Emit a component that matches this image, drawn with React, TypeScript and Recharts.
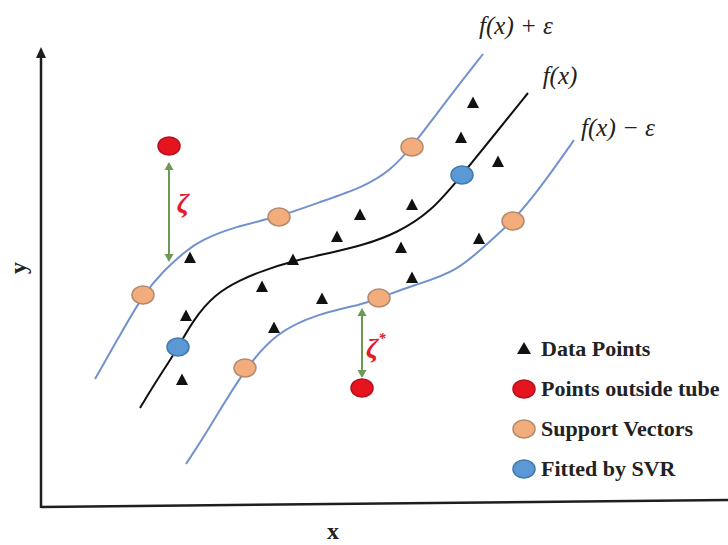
import React from "react";
import {
  ComposedChart,
  Line,
  Scatter,
  XAxis,
  YAxis,
  ReferenceLine,
  ReferenceDot,
  Legend,
} from "recharts";

// tube edges and the fitted function
const upperTube = [
  { x: 54, y: 126 }, { x: 79, y: 170 }, { x: 102, y: 210 }, { x: 122, y: 234 },
  { x: 146, y: 255 }, { x: 159, y: 264 }, { x: 192, y: 278 }, { x: 238, y: 288 },
  { x: 276, y: 302 }, { x: 323, y: 318 }, { x: 350, y: 335 }, { x: 371, y: 358 },
  { x: 406, y: 405 }, { x: 442, y: 451 },
];
const fitted = [
  { x: 99, y: 97 }, { x: 116, y: 125 }, { x: 137, y: 157 }, { x: 152, y: 185 },
  { x: 174, y: 211 }, { x: 199, y: 225 }, { x: 221, y: 234 }, { x: 252, y: 244 },
  { x: 289, y: 252 }, { x: 323, y: 260 }, { x: 356, y: 272 }, { x: 390, y: 293 },
  { x: 421, y: 330 }, { x: 454, y: 371 }, { x: 487, y: 412 },
];
const lowerTube = [
  { x: 145, y: 41 }, { x: 166, y: 73 }, { x: 204, y: 137 }, { x: 236, y: 173 },
  { x: 276, y: 191 }, { x: 323, y: 201 }, { x: 338, y: 207 }, { x: 373, y: 220 },
  { x: 416, y: 233 }, { x: 450, y: 265 }, { x: 472, y: 284 }, { x: 500, y: 318 },
  { x: 533, y: 365 },
];

const dataPoints = [
  { x: 149, y: 247 }, { x: 145, y: 189 }, { x: 141, y: 125 }, { x: 221, y: 218 },
  { x: 233, y: 177 }, { x: 252, y: 245 }, { x: 281, y: 206 }, { x: 296, y: 268 },
  { x: 319, y: 290 }, { x: 360, y: 257 }, { x: 371, y: 227 }, { x: 371, y: 300 },
  { x: 420, y: 367 }, { x: 432, y: 402 }, { x: 438, y: 266 }, { x: 457, y: 343 },
];
const supportVectors = [
  { x: 102, y: 210 }, { x: 238, y: 288 }, { x: 371, y: 358 },
  { x: 204, y: 137 }, { x: 338, y: 207 }, { x: 472, y: 284 },
];
const fittedPoints = [{ x: 137, y: 158 }, { x: 421, y: 330 }];
const outsidePoints = [{ x: 128, y: 359 }, { x: 321, y: 117 }];

// slack arrows (zeta, zeta*)
const zetaArrows = [
  { x: 128, top: 343, bottom: 243 },
  { x: 321, top: 197, bottom: 127 },
];
const arrowHeads = zetaArrows.flatMap((a) => [
  { x: a.x, y: a.top, dir: "up" },
  { x: a.x, y: a.bottom, dir: "down" },
]);

const legendItems = [
  { name: "Data Points", kind: "triangle" },
  { name: "Points outside tube", kind: "red" },
  { name: "Support Vectors", kind: "orange" },
  { name: "Fitted by SVR", kind: "blue" },
];

const BLUE_LINE = "#7291cf";
const GREEN = "#6b9a55";
const RED = "#e21d2b";
const AXIS = "#1e1e1e";
const markerStyle: Record<string, { fill: string; stroke: string }> = {
  red: { fill: "#e5141f", stroke: "#b3121c" },
  orange: { fill: "#f3ad7d", stroke: "#b48a6c" },
  blue: { fill: "#5a98d6", stroke: "#4479ac" },
};

const Tri = (props: any) => {
  const { cx, cy } = props;
  return <path d={`M${cx},${cy - 6.5} L${cx + 6},${cy + 5} L${cx - 6},${cy + 5} Z`} fill="#111" />;
};

const dot = (kind: string) => (props: any) => {
  const { cx, cy } = props;
  const s = markerStyle[kind];
  return <ellipse cx={cx} cy={cy} rx={11} ry={9} fill={s.fill} stroke={s.stroke} strokeWidth={1.5} />;
};

const Head = (props: any) => {
  const { cx, cy, payload } = props;
  const d =
    payload.dir === "up"
      ? `M${cx},${cy} L${cx + 4.5},${cy + 8} L${cx - 4.5},${cy + 8} Z`
      : `M${cx},${cy} L${cx + 4.5},${cy - 8} L${cx - 4.5},${cy - 8} Z`;
  return <path d={d} fill={GREEN} />;
};

const textAt =
  (text: React.ReactNode, style: React.SVGProps<SVGTextElement>) => (props: any) =>
    (
      <text x={props.cx} y={props.cy} dominantBaseline="central" {...style}>
        {text}
      </text>
    );

const fxStyle = { fontFamily: "Liberation Serif", fontStyle: "italic", fontSize: 25, fill: "#222", textAnchor: "middle" } as any;

const LegendBox = () => (
  <div style={{ fontFamily: "Liberation Serif", fontWeight: "bold", fontSize: 22, color: "#222" }}>
    {legendItems.map((it) => (
      <div key={it.name} style={{ display: "flex", alignItems: "center", height: 40 }}>
        <svg width={26} height={22} style={{ marginRight: 4 }}>
          {it.kind === "triangle" ? (
            <path d="M13,4 L20,16 L6,16 Z" fill="#111" />
          ) : (
            <ellipse cx={13} cy={11} rx={11} ry={9} fill={markerStyle[it.kind].fill} stroke={markerStyle[it.kind].stroke} strokeWidth={1.5} />
          )}
        </svg>
        <span style={{ whiteSpace: "nowrap" }}>{it.name}</span>
      </div>
    ))}
  </div>
);

export default function App() {
  return (
    <div style={{ position: "absolute", left: 0, top: 0, background: "#fff" }}>
      <ComposedChart width={728} height={545} margin={{ top: 0, right: 0, bottom: 40, left: 41 }}>
        <XAxis type="number" dataKey="x" domain={[0, 687]} allowDataOverflow hide />
        <YAxis type="number" dataKey="y" domain={[0, 505]} allowDataOverflow hide />
        {/* axes drawn as segments: x axis runs slightly uphill as in the source */}
        <ReferenceLine
          segment={[{ x: 0, y: -2 }, { x: 687, y: 5 }]}
          stroke={AXIS}
          strokeWidth={2.5}
          ifOverflow="visible"
        />
        <ReferenceLine
          segment={[{ x: 0, y: -3 }, { x: 0, y: 450 }]}
          stroke={AXIS}
          strokeWidth={2.5}
          ifOverflow="visible"
        />
        <ReferenceDot
          x={0}
          y={458}
          ifOverflow="visible"
          shape={(p: any) => <path d={`M${p.cx},${p.cy} L${p.cx + 5},${p.cy + 11} L${p.cx - 5},${p.cy + 11} Z`} fill={AXIS} />}
        />

        <Line data={upperTube} dataKey="y" type="basis" stroke={BLUE_LINE} strokeWidth={2} dot={false} isAnimationActive={false} legendType="none" />
        <Line data={fitted} dataKey="y" type="basis" stroke="#111" strokeWidth={2} dot={false} isAnimationActive={false} legendType="none" />
        <Line data={lowerTube} dataKey="y" type="basis" stroke={BLUE_LINE} strokeWidth={2} dot={false} isAnimationActive={false} legendType="none" />

        {zetaArrows.map((a, i) => (
          <ReferenceLine
            key={i}
            segment={[{ x: a.x, y: a.top - 6 }, { x: a.x, y: a.bottom + 6 }]}
            stroke={GREEN}
            strokeWidth={2}
          />
        ))}
        <Scatter data={arrowHeads} shape={Head} isAnimationActive={false} legendType="none" />

        <Scatter data={dataPoints} shape={Tri} isAnimationActive={false} legendType="none" />
        <Scatter data={supportVectors} shape={dot("orange")} isAnimationActive={false} legendType="none" />
        <Scatter data={fittedPoints} shape={dot("blue")} isAnimationActive={false} legendType="none" />
        <Scatter data={outsidePoints} shape={dot("red")} isAnimationActive={false} legendType="none" />

        <ReferenceDot x={475} y={480} ifOverflow="visible" shape={textAt("f(x) + ε", fxStyle)} />
        <ReferenceDot x={519} y={430} ifOverflow="visible" shape={textAt("f(x)", fxStyle)} />
        <ReferenceDot x={577} y={378} ifOverflow="visible" shape={textAt("f(x) − ε", fxStyle)} />

        <ReferenceDot
          x={142}
          y={303}
          ifOverflow="visible"
          shape={textAt("ζ", { fontFamily: "Liberation Serif", fontStyle: "italic", fontWeight: "bold", fontSize: 28, fill: RED, textAnchor: "middle" } as any)}
        />
        <ReferenceDot
          x={325}
          y={158}
          ifOverflow="visible"
          shape={textAt(
            <>
              ζ<tspan dy={-9} fontSize={15}>*</tspan>
            </>,
            { fontFamily: "Liberation Serif", fontStyle: "italic", fontWeight: "bold", fontSize: 28, fill: RED, textAnchor: "start" } as any
          )}
        />

        <ReferenceDot
          x={292}
          y={-26}
          ifOverflow="visible"
          shape={textAt("x", { fontFamily: "Liberation Serif", fontWeight: "bold", fontSize: 24, fill: "#222", textAnchor: "middle" } as any)}
        />
        <ReferenceDot
          x={-23}
          y={237}
          ifOverflow="visible"
          shape={(p: any) => (
            <text
              x={p.cx}
              y={p.cy}
              transform={`rotate(-90 ${p.cx} ${p.cy})`}
              textAnchor="middle"
              dominantBaseline="central"
              fontFamily="Liberation Serif"
              fontWeight="bold"
              fontSize={24}
              fill="#222"
            >
              y
            </text>
          )}
        />

        <Legend
          layout="horizontal"
          verticalAlign="middle"
          align="center"
          content={() => <LegendBox />}
          wrapperStyle={{ left: 511, top: 329, width: 217, height: 165 }}
        />
      </ComposedChart>
    </div>
  );
}
